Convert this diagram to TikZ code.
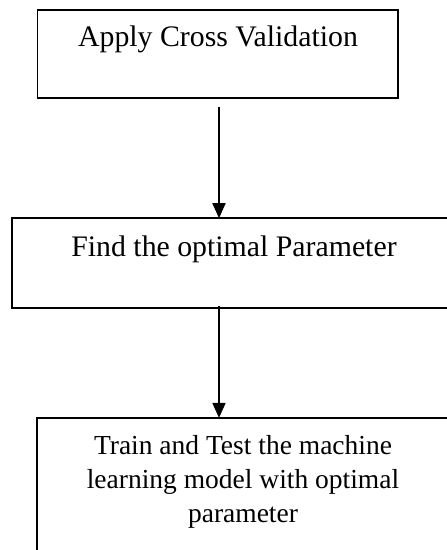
\documentclass[tikz,border=0pt]{standalone}
\usepackage{fontspec}
\setmainfont{Liberation Serif}
\usetikzlibrary{arrows.meta}
\begin{document}
\begin{tikzpicture}[x=1pt,y=-1pt,
  box/.style={draw=black,line width=1.6pt,rectangle,inner sep=0pt,fill=none},
  lbl/.style={anchor=base,inner sep=0pt,text=black,font=\fontsize{29.8}{34}\selectfont},
  lblsmall/.style={anchor=base,inner sep=0pt,text=black,font=\fontsize{27.5}{34}\selectfont},
  arr/.style={draw=black,line width=1.8pt,-{Triangle[width=13pt,length=15pt]}}]
\useasboundingbox (0,0) rectangle (447,550);
\clip (0,0) rectangle (447,550);
\fill[white] (0,0) rectangle (447,550);
% boxes
\node[box,minimum width=360.7pt,minimum height=87.7pt] (b1) at (217.65,53.85) {};
\node[box,minimum width=444pt,minimum height=90pt] (b2) at (234,263) {};
\node[box,minimum width=412pt,minimum height=182pt] (b3) at (243,508.7) {};
% texts
\node[lbl] (t1) at (218,46.5) {Apply Cross Validation};
\node[lbl] (t2) at (234,256) {Find the optimal Parameter};
\node[lblsmall] (t3a) at (243,454) {Train and Test the machine};
\node[lblsmall] (t3b) at (243,488) {learning model with optimal};
\node[lblsmall] (t3c) at (243,522) {parameter};
% connectors
\coordinate (ax) at (219,0);
\draw[arr] ([yshift=-8pt]b1.south -| ax) -- ([yshift=-1pt]b2.north -| ax);
\draw[arr] ([yshift=3pt]b2.south -| ax) -- ([yshift=-1pt]b3.north -| ax);
\end{tikzpicture}
\end{document}
